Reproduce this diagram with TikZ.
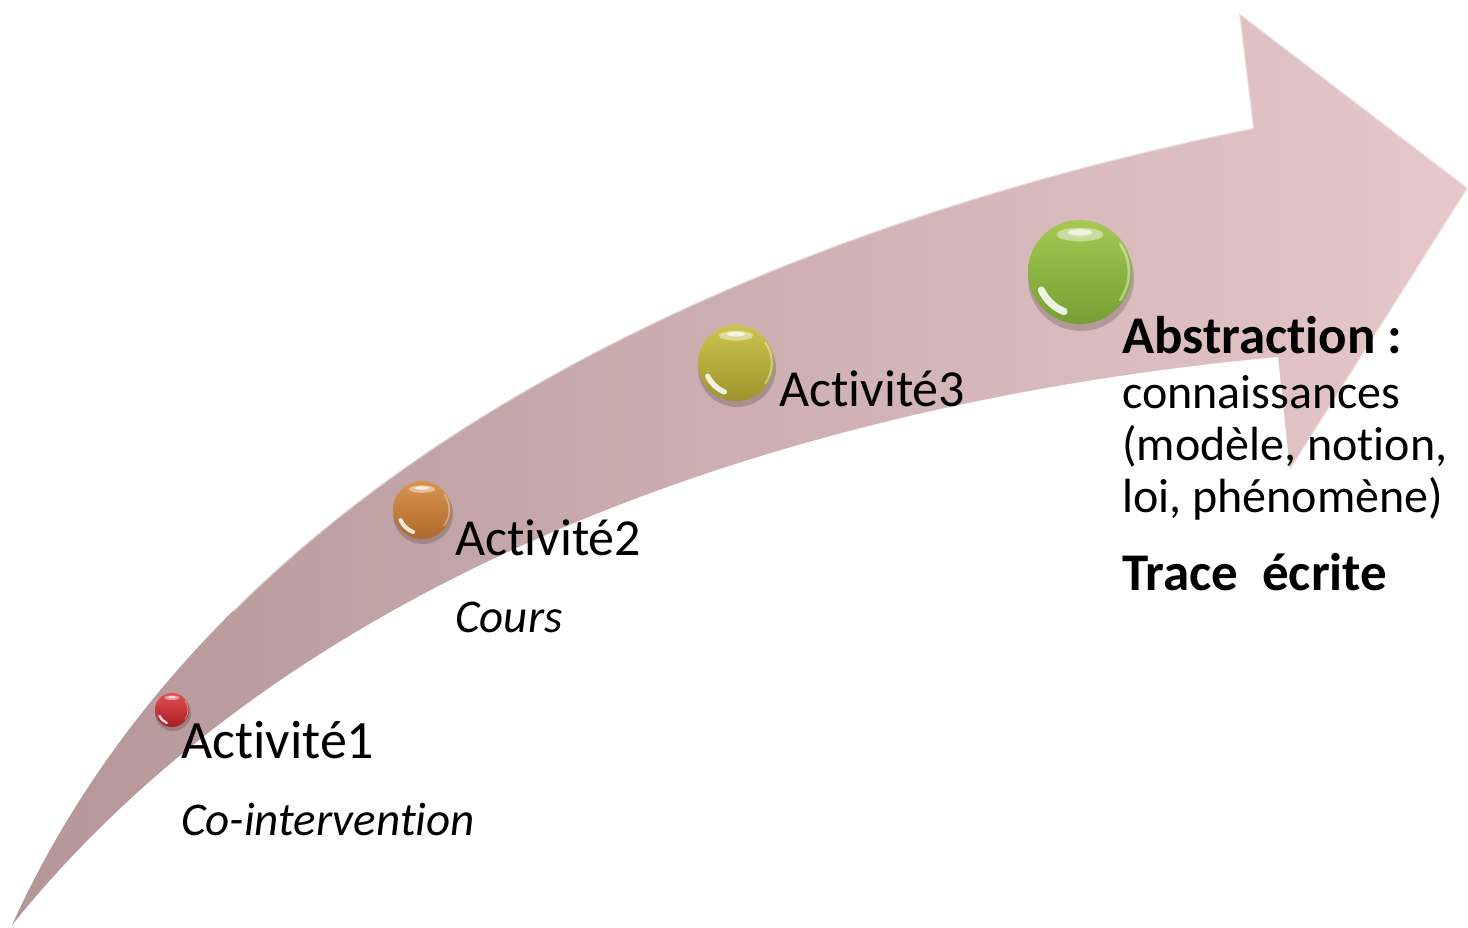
\documentclass[tikz,border=0pt]{standalone}
\usepackage{fontspec}
\setmainfont{Carlito}[Ligatures=NoCommon]
\usetikzlibrary{calc}

\definecolor{bandDark}{RGB}{180,150,152}
\definecolor{bandMid}{RGB}{217,187,189}
\definecolor{bandLight}{RGB}{231,200,202}

\definecolor{redTop}{RGB}{222,80,80}
\definecolor{redBot}{RGB}{170,28,34}
\definecolor{orangeTop}{RGB}{214,148,78}
\definecolor{orangeBot}{RGB}{176,104,44}
\definecolor{yellowTop}{RGB}{204,196,78}
\definecolor{yellowBot}{RGB}{158,148,44}
\definecolor{greenTop}{RGB}{162,202,82}
\definecolor{greenBot}{RGB}{118,158,52}

\tikzset{
  % glossy button: #1 radius (pt), #2 top colour, #3 bottom colour
  gem/.style n args={3}{
    circle, inner sep=0pt, minimum size=2*#1pt,
    top color=#2, bottom color=#3,
    path picture={
      \begin{scope}[shift={(path picture bounding box.center)}, x=1pt, y=1pt]
        \fill[white, opacity=.45] (0,0.72*#1) ellipse [x radius=0.45*#1, y radius=0.13*#1];
        \fill[white, opacity=.7] (0,0.76*#1) ellipse [x radius=0.24*#1, y radius=0.06*#1];
        \draw[white, opacity=.85, line width=0.14*#1pt, line cap=round]
          (205:0.82*#1) arc[start angle=205, end angle=248, radius=0.82*#1];
        \draw[white, opacity=.4, line width=0.05*#1pt, line cap=round]
          (-35:0.94*#1) arc[start angle=-35, end angle=35, radius=0.94*#1];
      \end{scope}
    }
  },
  gemshadow/.style={fill=black, opacity=.18},
  lbl/.style={anchor=base west, inner sep=0pt, font=\fontsize{52}{62}\selectfont},
  sublbl/.style={anchor=base west, inner sep=0pt, font=\fontsize{47}{56}\selectfont\itshape},
  rlbl/.style={anchor=base west, inner sep=0pt, font=\fontsize{48}{56}\selectfont},
  rbold/.style={anchor=base west, inner sep=0pt, font=\fontsize{53}{62}\selectfont\bfseries},
}

\begin{document}
\begin{tikzpicture}[x=1pt, y=-1pt]
\useasboundingbox (0,0) rectangle (1468,927);

% the curved band with its arrow head
\shade[left color=bandDark, middle color=bandMid, right color=bandLight]
  (12,925) .. controls (230,445) and (790,222) .. (1253,128)
  -- (1239,13) -- (1468,188) -- (1290,470) -- (1278,357)
  .. controls (828,398) and (312,553) .. (12,925)
  -- cycle;

% light bevel along the upper rim and the head (upper curve from t=0.25 on)
\draw[white, opacity=.45, line width=2.2pt, line join=round]
  (232.8,611.2) .. controls (503.9,341.6) and (905.75,198.5) .. (1253,128)
  -- (1239,13) -- (1468,188) -- (1290,470);

% stage markers
\coordinate (c1) at (172,710);
\coordinate (c2) at (422,510);
\coordinate (c3) at (736,363);
\coordinate (c4) at (1080,272);

\fill[gemshadow] ($(c1)+(1,3)$) circle (18pt);
\fill[gemshadow] ($(c2)+(1,4)$) circle (30pt);
\fill[gemshadow] ($(c3)+(1,5)$) circle (39pt);
\fill[gemshadow] ($(c4)+(1,6)$) circle (53pt);

\node[gem={17}{redTop}{redBot}] (b1) at (c1) {};
\node[gem={29}{orangeTop}{orangeBot}] (b2) at (c2) {};
\node[gem={38}{yellowTop}{yellowBot}] (b3) at (c3) {};
\node[gem={52}{greenTop}{greenBot}] (b4) at (c4) {};

% labels
\node[lbl, font=\fontsize{54}{62}\selectfont] (t1) at (181,758) {Activité1};
\node[sublbl] (s1) at (181,835) {Co-intervention};
\node[lbl] (t2) at (455,555) {Activité2};
\node[sublbl] (s2) at (455,632) {Cours};
\node[lbl] (t3) at (779,406) {Activité3};

\node[rbold] (a1) at (1122,353) {Abstraction :};
\node[rlbl] (a2) at (1122,408) {connaissances};
\node[rlbl] (a3) at (1122,460) {(modèle, notion,};
\node[rlbl] (a4) at (1122,512) {loi, phénomène)};
\node[rbold] (tr) at (1122,590) {Trace\ \ écrite};
\end{tikzpicture}
\end{document}
